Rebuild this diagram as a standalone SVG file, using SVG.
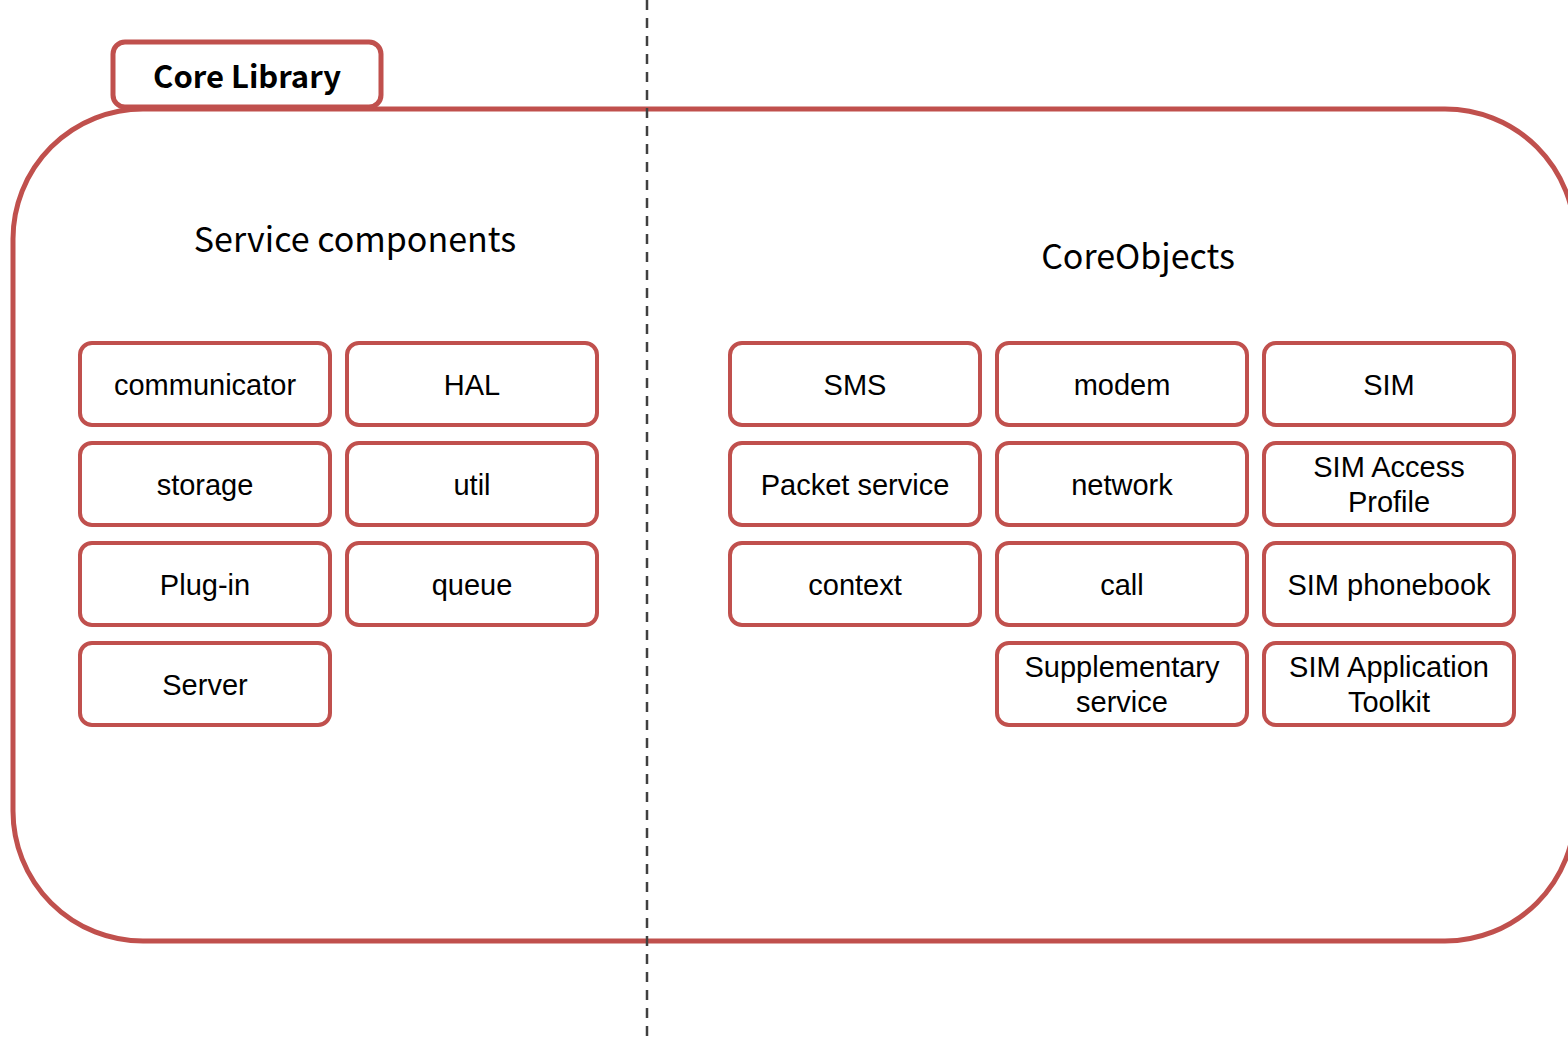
<svg xmlns="http://www.w3.org/2000/svg" width="1568" height="1042" viewBox="0 0 1568 1042">
  <style>
    .frame { fill: #ffffff; stroke: #C0504D; stroke-width: 5; }
    .box { fill: #ffffff; stroke: #C0504D; stroke-width: 4; }
    .lbl { font-family: "Liberation Sans", Arial, sans-serif; font-size: 29px; fill: #000000; text-anchor: middle; }
    .head { font-family: "Noto Sans CJK KR", "Open Sans", sans-serif; font-size: 34px; fill: #000000; text-anchor: middle; }
    .tab { font-family: "Noto Sans CJK KR", "Open Sans", sans-serif; font-size: 31px; font-weight: bold; fill: #000000; text-anchor: middle; }
    .divider { stroke: #404040; stroke-width: 2.5; stroke-dasharray: 10 8; fill: none; }
  </style>

  <rect width="1568" height="1042" fill="#ffffff"/>

  <!-- Core Library container -->
  <g id="core-library">
    <rect class="frame" x="13" y="109" width="1562" height="832" rx="130" ry="130"/>
    <rect class="frame" x="113" y="42" width="268" height="65" rx="12" ry="12"/>
    <text class="tab" x="247" y="88">Core Library</text>
  </g>

  <!-- Section headings -->
  <text class="head" x="355" y="252">Service components</text>
  <text class="head" x="1138" y="269">CoreObjects</text>

  <!-- Service components -->
  <g id="communicator"><rect class="box" x="80" y="343" width="250" height="82" rx="12"/><text class="lbl" x="205" y="395">communicator</text></g>
  <g id="hal"><rect class="box" x="347" y="343" width="250" height="82" rx="12"/><text class="lbl" x="472" y="395">HAL</text></g>
  <g id="storage"><rect class="box" x="80" y="443" width="250" height="82" rx="12"/><text class="lbl" x="205" y="495">storage</text></g>
  <g id="util"><rect class="box" x="347" y="443" width="250" height="82" rx="12"/><text class="lbl" x="472" y="495">util</text></g>
  <g id="plug-in"><rect class="box" x="80" y="543" width="250" height="82" rx="12"/><text class="lbl" x="205" y="595">Plug-in</text></g>
  <g id="queue"><rect class="box" x="347" y="543" width="250" height="82" rx="12"/><text class="lbl" x="472" y="595">queue</text></g>
  <g id="server"><rect class="box" x="80" y="643" width="250" height="82" rx="12"/><text class="lbl" x="205" y="695">Server</text></g>

  <!-- CoreObjects -->
  <g id="sms"><rect class="box" x="730" y="343" width="250" height="82" rx="12"/><text class="lbl" x="855" y="395">SMS</text></g>
  <g id="modem"><rect class="box" x="997" y="343" width="250" height="82" rx="12"/><text class="lbl" x="1122" y="395">modem</text></g>
  <g id="sim"><rect class="box" x="1264" y="343" width="250" height="82" rx="12"/><text class="lbl" x="1389" y="395">SIM</text></g>
  <g id="packet-service"><rect class="box" x="730" y="443" width="250" height="82" rx="12"/><text class="lbl" x="855" y="495">Packet service</text></g>
  <g id="network"><rect class="box" x="997" y="443" width="250" height="82" rx="12"/><text class="lbl" x="1122" y="495">network</text></g>
  <g id="sim-access-profile"><rect class="box" x="1264" y="443" width="250" height="82" rx="12"/><text class="lbl" x="1389" y="477">SIM Access</text><text class="lbl" x="1389" y="512">Profile</text></g>
  <g id="context"><rect class="box" x="730" y="543" width="250" height="82" rx="12"/><text class="lbl" x="855" y="595">context</text></g>
  <g id="call"><rect class="box" x="997" y="543" width="250" height="82" rx="12"/><text class="lbl" x="1122" y="595">call</text></g>
  <g id="sim-phonebook"><rect class="box" x="1264" y="543" width="250" height="82" rx="12"/><text class="lbl" x="1389" y="595">SIM phonebook</text></g>
  <g id="supplementary-service"><rect class="box" x="997" y="643" width="250" height="82" rx="12"/><text class="lbl" x="1122" y="677">Supplementary</text><text class="lbl" x="1122" y="712">service</text></g>
  <g id="sim-application-toolkit"><rect class="box" x="1264" y="643" width="250" height="82" rx="12"/><text class="lbl" x="1389" y="677">SIM Application</text><text class="lbl" x="1389" y="712">Toolkit</text></g>

  <!-- Vertical divider -->
  <g id="connectors">
    <line class="divider" x1="647" y1="0" x2="647" y2="1042"/>
  </g>
</svg>
